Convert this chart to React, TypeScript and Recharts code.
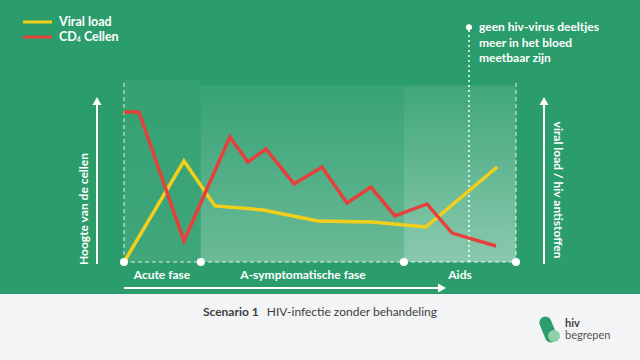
import React from "react";
import {
  ComposedChart,
  Line,
  XAxis,
  YAxis,
  ReferenceArea,
  ReferenceLine,
  ReferenceDot,
} from "recharts";

// time (0-100) and relative level (0-100)
const redTime = [0, 3.8, 15.3, 27, 31.6, 36.2, 43.4, 50.5, 56.9, 63, 69.1, 77.3, 83.7, 94.9];
const redLevel = [82.4, 82.4, 11.5, 68.7, 54.9, 62.1, 42.9, 52.2, 32.4, 41.2, 25.3, 31.9, 15.9, 8.8];
const yellowTime = [0, 15.3, 23.2, 35.5, 49.5, 63.3, 77, 95.2];
const yellowLevel = [0, 55.5, 30.8, 28.6, 22.5, 22, 19.2, 52.2];

const phaseNames = ["Acute fase", "A-symptomatische fase", "Aids"];
const phaseEdges = [0, 19.6, 71.4, 100];
const undetectableAt = 88;

const redData = redTime.map((t, i) => ({ t, v: redLevel[i] }));
const yellowData = yellowTime.map((t, i) => ({ t, v: yellowLevel[i] }));

const GREEN = "#2b9d6c";
const RED = "#e6403b";
const YELLOW = "#f3cf1b";
const FONT = "Lato, 'Open Sans', sans-serif";

export default function App() {
  return (
    <div
      style={{
        position: "absolute",
        left: 0,
        top: 0,
        width: 640,
        height: 360,
        background: "#f3f4f5",
        fontFamily: FONT,
        overflow: "hidden",
      }}
    >
      <div style={{ position: "absolute", left: 0, top: 0, width: 640, height: 294, background: GREEN }} />
      <div style={{ position: "absolute", left: 0, top: 0 }}>
        <ComposedChart
          width={640}
          height={360}
          margin={{ top: 80, right: 124, bottom: 98, left: 124 }}
        >
          <defs>
            <linearGradient id="gAcute" x1="0" y1="0" x2="0" y2="1">
              <stop offset="0%" stopColor="#ffffff" stopOpacity={0.04} />
              <stop offset="100%" stopColor="#ffffff" stopOpacity={0.1} />
            </linearGradient>
            <linearGradient id="gAsym" x1="0" y1="0" x2="0" y2="1">
              <stop offset="0%" stopColor="#ffffff" stopOpacity={0.06} />
              <stop offset="100%" stopColor="#ffffff" stopOpacity={0.3} />
            </linearGradient>
            <linearGradient id="gAids" x1="0" y1="0" x2="0" y2="1">
              <stop offset="0%" stopColor="#ffffff" stopOpacity={0.1} />
              <stop offset="100%" stopColor="#ffffff" stopOpacity={0.45} />
            </linearGradient>
          </defs>
          <XAxis type="number" dataKey="t" domain={[0, 100]} hide allowDuplicatedCategory={false} />
          <YAxis type="number" domain={[0, 100]} hide />
          <ReferenceArea x1={phaseEdges[0]} x2={phaseEdges[1]} y1={0} y2={100} fill="url(#gAcute)" fillOpacity={1} stroke="none" />
          <ReferenceArea x1={phaseEdges[1]} x2={phaseEdges[2]} y1={0} y2={97} fill="url(#gAsym)" fillOpacity={1} stroke="none" />
          <ReferenceArea x1={phaseEdges[2]} x2={phaseEdges[3]} y1={0} y2={97} fill="url(#gAids)" fillOpacity={1} stroke="none" />
          <ReferenceLine x={0} stroke="#ffffff" strokeOpacity={0.85} strokeDasharray="4 3" />
          <ReferenceLine x={100} stroke="#ffffff" strokeOpacity={0.85} strokeDasharray="4 3" />
          <ReferenceLine y={0} stroke="#ffffff" strokeOpacity={0.85} strokeDasharray="4 3" />
          <ReferenceLine
            segment={[{ x: undetectableAt, y: 0 }, { x: undetectableAt, y: 129 }]}
            ifOverflow="visible"
            stroke="#ffffff"
            strokeWidth={1.5}
            strokeDasharray="2 3"
          />
          <ReferenceDot x={undetectableAt} y={129} r={3} fill="#ffffff" stroke="none" ifOverflow="visible" />
          <Line
            data={yellowData}
            dataKey="v"
            type="linear"
            stroke={YELLOW}
            strokeWidth={3.5}
            dot={false}
            isAnimationActive={false}
          />
          <Line
            data={redData}
            dataKey="v"
            type="linear"
            stroke={RED}
            strokeWidth={3.5}
            dot={false}
            isAnimationActive={false}
          />
          {phaseEdges.map((e) => (
            <ReferenceDot key={e} x={e} y={0} r={4} fill="#ffffff" stroke="none" ifOverflow="visible" />
          ))}
        </ComposedChart>
      </div>

      <svg
        width={640}
        height={360}
        style={{ position: "absolute", left: 0, top: 0, pointerEvents: "none" }}
        fontFamily={FONT}
      >
        {/* legend */}
        <line x1={23} y1={22} x2={52} y2={22} stroke={YELLOW} strokeWidth={3} />
        <line x1={23} y1={37} x2={52} y2={37} stroke={RED} strokeWidth={3} />
        <text x={59} y={26} fill="#fff" fontSize={12.5} fontWeight={700}>Viral load</text>
        <text x={59} y={41} fill="#fff" fontSize={12.5} fontWeight={700}>
          CD<tspan fontSize={7} dy={1}>4</tspan>
          <tspan dy={-1}> Cellen</tspan>
        </text>

        {/* annotation */}
        <g fill="#fff" fontSize={12} fontWeight={700}>
          <text x={479} y={31}>geen hiv-virus deeltjes</text>
          <text x={479} y={47}>meer in het bloed</text>
          <text x={479} y={62}>meetbaar  zijn</text>
        </g>

        {/* axis arrows */}
        <line x1={97} y1={264} x2={97} y2={104} stroke="#fff" strokeWidth={2} />
        <polygon points="97,97 92.5,105 101.5,105" fill="#fff" />
        <line x1={544} y1={264} x2={544} y2={104} stroke="#fff" strokeWidth={2} />
        <polygon points="544,97 539.5,105 548.5,105" fill="#fff" />
        <line x1={124} y1={288} x2={438} y2={288} stroke="#fff" strokeWidth={2} />
        <polygon points="446,288 438,283.5 438,292.5" fill="#fff" />

        <text
          x={85}
          y={209}
          transform="rotate(-90 85 209)"
          textAnchor="middle"
          dominantBaseline="middle"
          fill="#fff"
          fontSize={12}
          fontWeight={700}
        >
          Hoogte van de cellen
        </text>
        <text
          x={557}
          y={190}
          transform="rotate(90 557 190)"
          textAnchor="middle"
          dominantBaseline="middle"
          fill="#fff"
          fontSize={12}
          fontWeight={700}
        >
          viral load / hiv antistoffen
        </text>

        {/* phase labels */}
        <g fill="#fff" fontSize={12} fontWeight={700} textAnchor="middle">
          <text x={162} y={279}>{phaseNames[0]}</text>
          <text x={303} y={279}>{phaseNames[1]}</text>
          <text x={460} y={279}>{phaseNames[2]}</text>
        </g>

        {/* caption */}
        <text x={320} y={316} textAnchor="middle" fill="#404040" fontSize={12}>
          <tspan fontWeight={700}>Scenario 1</tspan>
          <tspan dx={8}>HIV-infectie zonder behandeling</tspan>
        </text>

        {/* logo */}
        <rect x={542} y={316} width={12} height={27} rx={6} fill={GREEN} transform="rotate(-22 548 329)" />
        <circle cx={554} cy={336} r={6} fill="#8fd0a9" />
        <text x={565} y={327} fill="#3d3d3d" fontSize={11} fontWeight={700}>hiv</text>
        <text x={565} y={339} fill="#555" fontSize={11}>begrepen</text>
      </svg>
    </div>
  );
}
